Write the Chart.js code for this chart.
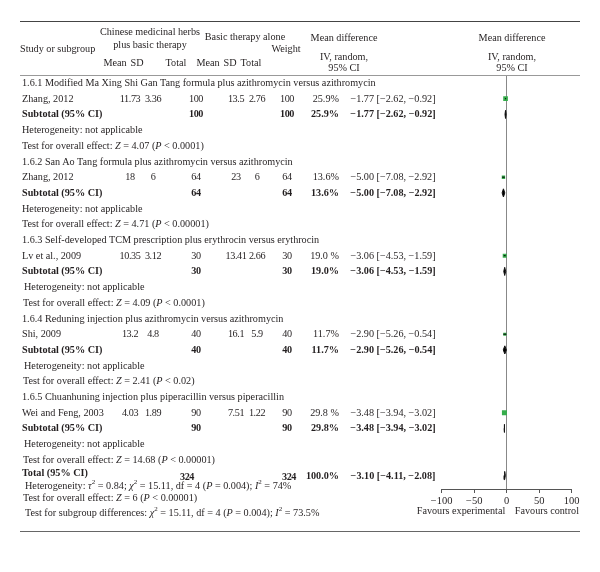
<!DOCTYPE html>
<html>
<head>
<meta charset="utf-8">
<script src="https://cdn.jsdelivr.net/npm/chart.js@4.4.1/dist/chart.umd.min.js"></script>
<style>
  body { margin: 0; background: #fff; }
  #wrap { position: relative; width: 600px; height: 572px; font-family: 'Liberation Serif', 'Times New Roman', serif; font-size: 10.2px; color: #231f20; }
  #plot { position: absolute; left: 0; top: 0; }
  .t { position: absolute; white-space: nowrap; line-height: 1; }
  .b { font-weight: bold; }
  .n { letter-spacing: -0.4px; }
  .rule { position: absolute; left: 20px; width: 560px; height: 0; }
  sup { font-size: 7px; }
</style>
</head>
<body>
<div id="wrap">
  <canvas id="plot" width="600" height="572"></canvas>
</div>
<script>
const groupTitles = [
  '1.6.1 Modified Ma Xing Shi Gan Tang formula plus azithromycin versus azithromycin',
  '1.6.2 San Ao Tang formula plus azithromycin versus azithromycin',
  '1.6.3 Self-developed TCM prescription plus erythrocin versus erythrocin',
  '1.6.4 Reduning injection plus azithromycin versus azithromycin',
  '1.6.5 Chuanhuning injection plus piperacillin versus piperacillin'
];
const studies = ['Zhang, 2012', 'Zhang, 2012', 'Lv et al., 2009', 'Shi, 2009', 'Wei and Feng, 2003'];
const expMean = [11.73, 18, 10.35, 13.2, 4.03];
const expSD = [3.36, 6, 3.12, 4.8, 1.89];
const expTotal = [100, 64, 30, 40, 90];
const ctlMean = [13.5, 23, 13.41, 16.1, 7.51];
const ctlSD = [2.76, 6, 2.66, 5.9, 1.22];
const ctlTotal = [100, 64, 30, 40, 90];
const weights = [25.9, 13.6, 19.0, 11.7, 29.8];
const md = [-1.77, -5.00, -3.06, -2.90, -3.48];
const ciLow = [-2.62, -7.08, -4.53, -5.26, -3.94];
const ciHigh = [-0.92, -2.92, -1.59, -0.54, -3.02];
const zValues = ['4.07', '4.71', '4.09', '2.41', '14.68'];
const pValues = ['&lt; 0.0001', '&lt; 0.00001', '&lt; 0.0001', '&lt; 0.02', '&lt; 0.00001'];
const totalExp = 324;
const totalCtl = 324;
const totalMD = -3.10;
const totalLow = -4.11;
const totalHigh = -2.08;
const xTicks = [-100, -50, 0, 50, 100];

const green = '#36ad4c';
const serif = "'Liberation Serif', 'Times New Roman', serif";

// layout: row 0 = first subgroup title
const rowTop = 83, rowStep = 15.7;
const plotTop = 75, plotBottom = 489;
const rowY = r => rowTop + r * rowStep;

const col = { name: 22, eMean: 130, eSD: 153, eTot: 196, cMean: 236, cSD: 257, cTot: 287, weight: 339, md: 393 };

const wrap = document.getElementById('wrap');

function put(html, x, y, align, cls) {
  const d = document.createElement('div');
  d.className = 't' + (cls ? ' ' + cls : '');
  d.innerHTML = html;
  d.style.left = x + 'px';
  d.style.top = y + 'px';
  const tx = align === 'center' ? '-50%' : align === 'right' ? '-100%' : '0';
  d.style.transform = `translate(${tx}, -50%)`;
  wrap.appendChild(d);
}

function rule(y, w, c) {
  const d = document.createElement('div');
  d.className = 'rule';
  d.style.top = y + 'px';
  d.style.borderTop = w + 'px solid ' + c;
  wrap.appendChild(d);
}

const fmt = v => (v < 0 ? '\u2212' : '') + Math.abs(v).toFixed(2);
const ciText = (m, l, h) => `${fmt(m)} [${fmt(l)}, ${fmt(h)}]`;

// rules
rule(20.5, 1.4, '#444');
rule(75, 1, '#999');
rule(531, 1.4, '#666');

// header
put('Study or subgroup', 20, 49, 'left');
put('Chinese medicinal herbs', 150, 32, 'center');
put('plus basic therapy', 150, 45, 'center');
put('Basic therapy alone', 245, 37, 'center');
put('Mean', 115, 63, 'center');
put('SD', 137, 63, 'center');
put('Total', 176, 63, 'center');
put('Mean', 208, 63, 'center');
put('SD', 230, 63, 'center');
put('Total', 251, 63, 'center');
put('Weight', 286, 49, 'center');
put('Mean difference', 344, 38, 'center');
put('IV, random,', 344, 57, 'center');
put('95% CI', 344, 68, 'center');
put('Mean difference', 512, 38, 'center');
put('IV, random,', 512, 57, 'center');
put('95% CI', 512, 68, 'center');

// groups
groupTitles.forEach((title, g) => {
  const base = 5 * g;
  const ind = g >= 2 ? 2 : 0;
  put(title, col.name, rowY(base), 'left');
  const y1 = rowY(base + 1);
  put(studies[g], col.name, y1, 'left');
  put(String(expMean[g]), col.eMean, y1, 'center', 'n');
  put(String(expSD[g]), col.eSD, y1, 'center', 'n');
  put(String(expTotal[g]), col.eTot, y1, 'center', 'n');
  put(String(ctlMean[g]), col.cMean, y1, 'center', 'n');
  put(String(ctlSD[g]), col.cSD, y1, 'center', 'n');
  put(String(ctlTotal[g]), col.cTot, y1, 'center', 'n');
  const wStr = weights[g].toFixed(1);
  put(wStr + ((g === 2 || g === 4) ? ' %' : '%'), col.weight, y1, 'right');
  put(ciText(md[g], ciLow[g], ciHigh[g]), col.md, y1, 'center');
  const y2 = rowY(base + 2);
  put('Subtotal (95% CI)', col.name, y2, 'left', 'b');
  put(String(expTotal[g]), col.eTot, y2, 'center', 'b n');
  put(String(ctlTotal[g]), col.cTot, y2, 'center', 'b n');
  put(wStr + '%', col.weight, y2, 'right', 'b');
  put(ciText(md[g], ciLow[g], ciHigh[g]), col.md, y2, 'center', 'b');
  put('Heterogeneity: not applicable', col.name + ind, rowY(base + 3), 'left');
  put(`Test for overall effect: <i>Z</i> = ${zValues[g]} (<i>P</i> ${pValues[g]})`, col.name + ind * 0.5, rowY(base + 4), 'left');
});

// total block
const totalRow = 25;
const yt = rowY(totalRow);
put('Total (95% CI)', col.name, yt - 3, 'left', 'b');
put(String(totalExp), 187, yt + 1, 'center', 'b n');
put(String(totalCtl), 289, yt + 1, 'center', 'b n');
put('100.0%', col.weight, yt, 'right', 'b');
put(ciText(totalMD, totalLow, totalHigh), col.md, yt, 'center', 'b');
put('Heterogeneity: <i>\u03c4</i><sup>2</sup> = 0.84; <i>\u03c7</i><sup>2</sup> = 15.11, df = 4 (<i>P</i> = 0.004); <i>I</i><sup>2</sup> = 74%', 25, yt + 9, 'left');
put('Test for overall effect: <i>Z</i> = 6 (<i>P</i> &lt; 0.00001)', 23, yt + 22, 'left');
put('Test for subgroup differences: <i>\u03c7</i><sup>2</sup> = 15.11, df = 4 (<i>P</i> = 0.004); <i>I</i><sup>2</sup> = 73.5%', 25, yt + 36, 'left');
put('Favours experimental', 461, 511, 'center');
put('Favours control', 579, 511, 'right');

// chart datasets
const datasets = [];
md.forEach((m, i) => {
  const r = 5 * i + 1;
  datasets.push({
    data: [{ x: ciLow[i], y: r }, { x: ciHigh[i], y: r }],
    showLine: true, borderColor: '#000', borderWidth: 1, pointRadius: 0
  });
});
datasets.push({
  data: md.map((m, i) => ({ x: m, y: 5 * i + 1 })),
  pointStyle: 'rect',
  pointRadius: weights.map(w => Math.sqrt(w) * 0.65),
  backgroundColor: green, borderWidth: 0
});
const dh = 0.26;
function diamond(m, l, h, r) {
  return {
    data: [{ x: l, y: r }, { x: m, y: r - dh }, { x: h, y: r }, { x: m, y: r + dh }, { x: l, y: r }],
    showLine: true, borderColor: '#111', borderWidth: 1, pointRadius: 0,
    fill: 'shape', backgroundColor: '#000'
  };
}
md.forEach((m, i) => datasets.push(diamond(m, ciLow[i], ciHigh[i], 5 * i + 2)));
datasets.push(diamond(totalMD, totalLow, totalHigh, totalRow));

new Chart(document.getElementById('plot'), {
  type: 'scatter',
  data: { datasets },
  options: {
    responsive: false,
    animation: false,
    devicePixelRatio: 1,
    layout: { padding: { left: 441.7, right: 28.3, top: plotTop, bottom: 572 - plotBottom - 30 } },
    plugins: { legend: { display: false }, tooltip: { enabled: false } },
    scales: {
      x: {
        type: 'linear',
        min: -100,
        max: 100,
        afterFit: s => { s.height = 30; },
        afterBuildTicks: s => { s.ticks = xTicks.map(v => ({ value: v })); },
        ticks: {
          padding: 2,
          color: '#231f20',
          font: { family: serif, size: 10.5 },
          callback: v => (v < 0 ? '\u2212' + Math.abs(v) : String(v))
        },
        grid: {
          color: c => (c.tick && c.tick.value === 0 ? '#888' : 'rgba(0,0,0,0)'),
          tickColor: '#555',
          tickLength: 4,
          lineWidth: 1
        },
        border: { display: true, color: '#555', width: 1 }
      },
      y: {
        type: 'linear',
        display: false,
        reverse: true,
        min: (plotTop - rowTop) / rowStep,
        max: (plotBottom - rowTop) / rowStep
      }
    }
  }
});
</script>
</body>
</html>
